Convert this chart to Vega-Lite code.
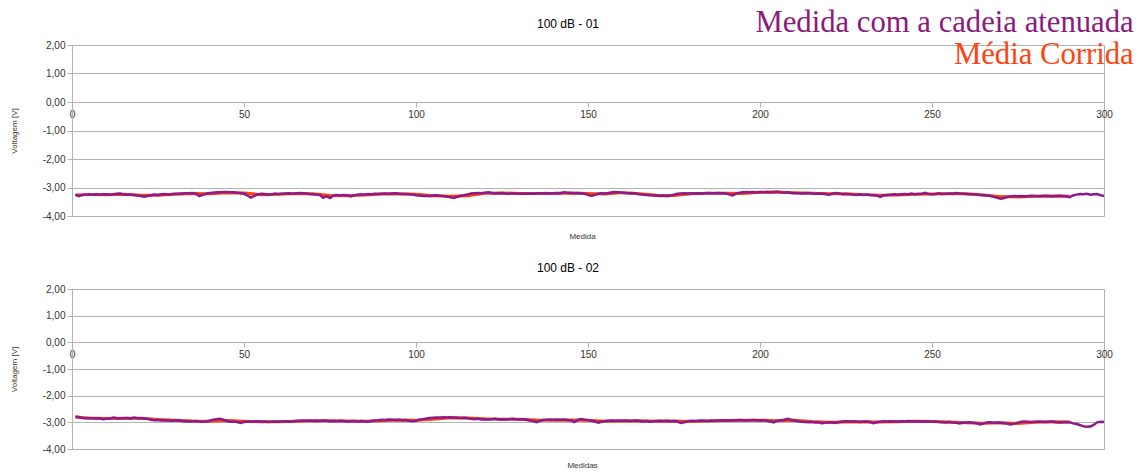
{
"$schema": "https://vega.github.io/schema/vega-lite/v6.json",
"background": "white",
"padding": {"left": 9, "top": 8, "right": 0, "bottom": 0},
"spacing": 20,
"datasets": {
"m1": [{"x":1,"v":-3.25},{"x":2,"v":-3.30},{"x":3,"v":-3.26},{"x":4,"v":-3.25},{"x":5,"v":-3.24},{"x":6,"v":-3.25},{"x":7,"v":-3.24},{"x":8,"v":-3.25},{"x":9,"v":-3.24},{"x":10,"v":-3.24},
{"x":11,"v":-3.25},{"x":12,"v":-3.24},{"x":13,"v":-3.22},{"x":14,"v":-3.21},{"x":15,"v":-3.24},{"x":16,"v":-3.25},{"x":17,"v":-3.25},{"x":18,"v":-3.26},{"x":19,"v":-3.28},{"x":20,"v":-3.30},
{"x":21,"v":-3.32},{"x":22,"v":-3.30},{"x":23,"v":-3.27},{"x":24,"v":-3.25},{"x":25,"v":-3.26},{"x":26,"v":-3.24},{"x":27,"v":-3.23},{"x":28,"v":-3.25},{"x":29,"v":-3.23},{"x":30,"v":-3.22},
{"x":31,"v":-3.22},{"x":32,"v":-3.21},{"x":33,"v":-3.20},{"x":34,"v":-3.20},{"x":35,"v":-3.19},{"x":36,"v":-3.22},{"x":37,"v":-3.30},{"x":38,"v":-3.26},{"x":39,"v":-3.22},{"x":40,"v":-3.19},
{"x":41,"v":-3.18},{"x":42,"v":-3.17},{"x":43,"v":-3.17},{"x":44,"v":-3.16},{"x":45,"v":-3.16},{"x":46,"v":-3.17},{"x":47,"v":-3.17},{"x":48,"v":-3.18},{"x":49,"v":-3.20},{"x":50,"v":-3.22},
{"x":51,"v":-3.28},{"x":52,"v":-3.35},{"x":53,"v":-3.29},{"x":54,"v":-3.24},{"x":55,"v":-3.22},{"x":56,"v":-3.23},{"x":57,"v":-3.26},{"x":58,"v":-3.24},{"x":59,"v":-3.21},{"x":60,"v":-3.23},
{"x":61,"v":-3.22},{"x":62,"v":-3.21},{"x":63,"v":-3.20},{"x":64,"v":-3.22},{"x":65,"v":-3.21},{"x":66,"v":-3.19},{"x":67,"v":-3.20},{"x":68,"v":-3.21},{"x":69,"v":-3.23},{"x":70,"v":-3.24},
{"x":71,"v":-3.25},{"x":72,"v":-3.26},{"x":73,"v":-3.36},{"x":74,"v":-3.30},{"x":75,"v":-3.37},{"x":76,"v":-3.29},{"x":77,"v":-3.26},{"x":78,"v":-3.28},{"x":79,"v":-3.26},{"x":80,"v":-3.27},
{"x":81,"v":-3.31},{"x":82,"v":-3.27},{"x":83,"v":-3.25},{"x":84,"v":-3.24},{"x":85,"v":-3.25},{"x":86,"v":-3.23},{"x":87,"v":-3.24},{"x":88,"v":-3.22},{"x":89,"v":-3.23},{"x":90,"v":-3.22},
{"x":91,"v":-3.21},{"x":92,"v":-3.22},{"x":93,"v":-3.21},{"x":94,"v":-3.20},{"x":95,"v":-3.22},{"x":96,"v":-3.23},{"x":97,"v":-3.23},{"x":98,"v":-3.24},{"x":99,"v":-3.25},{"x":100,"v":-3.27},
{"x":101,"v":-3.28},{"x":102,"v":-3.30},{"x":103,"v":-3.29},{"x":104,"v":-3.31},{"x":105,"v":-3.28},{"x":106,"v":-3.27},{"x":107,"v":-3.29},{"x":108,"v":-3.30},{"x":109,"v":-3.32},{"x":110,"v":-3.34},
{"x":111,"v":-3.37},{"x":112,"v":-3.33},{"x":113,"v":-3.29},{"x":114,"v":-3.27},{"x":115,"v":-3.24},{"x":116,"v":-3.21},{"x":117,"v":-3.20},{"x":118,"v":-3.19},{"x":119,"v":-3.20},{"x":120,"v":-3.18},
{"x":121,"v":-3.17},{"x":122,"v":-3.19},{"x":123,"v":-3.21},{"x":124,"v":-3.20},{"x":125,"v":-3.19},{"x":126,"v":-3.21},{"x":127,"v":-3.22},{"x":128,"v":-3.21},{"x":129,"v":-3.21},{"x":130,"v":-3.22},
{"x":131,"v":-3.21},{"x":132,"v":-3.22},{"x":133,"v":-3.21},{"x":134,"v":-3.22},{"x":135,"v":-3.21},{"x":136,"v":-3.20},{"x":137,"v":-3.20},{"x":138,"v":-3.19},{"x":139,"v":-3.21},{"x":140,"v":-3.20},
{"x":141,"v":-3.19},{"x":142,"v":-3.20},{"x":143,"v":-3.17},{"x":144,"v":-3.18},{"x":145,"v":-3.19},{"x":146,"v":-3.20},{"x":147,"v":-3.19},{"x":148,"v":-3.20},{"x":149,"v":-3.22},{"x":150,"v":-3.26},
{"x":151,"v":-3.30},{"x":152,"v":-3.26},{"x":153,"v":-3.22},{"x":154,"v":-3.20},{"x":155,"v":-3.21},{"x":156,"v":-3.19},{"x":157,"v":-3.17},{"x":158,"v":-3.16},{"x":159,"v":-3.17},{"x":160,"v":-3.18},
{"x":161,"v":-3.19},{"x":162,"v":-3.20},{"x":163,"v":-3.19},{"x":164,"v":-3.21},{"x":165,"v":-3.24},{"x":166,"v":-3.25},{"x":167,"v":-3.26},{"x":168,"v":-3.27},{"x":169,"v":-3.28},{"x":170,"v":-3.29},
{"x":171,"v":-3.30},{"x":172,"v":-3.29},{"x":173,"v":-3.31},{"x":174,"v":-3.28},{"x":175,"v":-3.25},{"x":176,"v":-3.22},{"x":177,"v":-3.21},{"x":178,"v":-3.20},{"x":179,"v":-3.21},{"x":180,"v":-3.20},
{"x":181,"v":-3.21},{"x":182,"v":-3.20},{"x":183,"v":-3.21},{"x":184,"v":-3.20},{"x":185,"v":-3.19},{"x":186,"v":-3.20},{"x":187,"v":-3.20},{"x":188,"v":-3.19},{"x":189,"v":-3.20},{"x":190,"v":-3.21},
{"x":191,"v":-3.24},{"x":192,"v":-3.28},{"x":193,"v":-3.22},{"x":194,"v":-3.18},{"x":195,"v":-3.17},{"x":196,"v":-3.16},{"x":197,"v":-3.17},{"x":198,"v":-3.16},{"x":199,"v":-3.17},{"x":200,"v":-3.16},
{"x":201,"v":-3.17},{"x":202,"v":-3.16},{"x":203,"v":-3.17},{"x":204,"v":-3.16},{"x":205,"v":-3.15},{"x":206,"v":-3.17},{"x":207,"v":-3.18},{"x":208,"v":-3.17},{"x":209,"v":-3.19},{"x":210,"v":-3.20},
{"x":211,"v":-3.20},{"x":212,"v":-3.21},{"x":213,"v":-3.20},{"x":214,"v":-3.19},{"x":215,"v":-3.21},{"x":216,"v":-3.22},{"x":217,"v":-3.21},{"x":218,"v":-3.22},{"x":219,"v":-3.23},{"x":220,"v":-3.25},
{"x":221,"v":-3.22},{"x":222,"v":-3.19},{"x":223,"v":-3.21},{"x":224,"v":-3.24},{"x":225,"v":-3.23},{"x":226,"v":-3.24},{"x":227,"v":-3.25},{"x":228,"v":-3.26},{"x":229,"v":-3.24},{"x":230,"v":-3.26},
{"x":231,"v":-3.25},{"x":232,"v":-3.26},{"x":233,"v":-3.27},{"x":234,"v":-3.28},{"x":235,"v":-3.33},{"x":236,"v":-3.27},{"x":237,"v":-3.26},{"x":238,"v":-3.25},{"x":239,"v":-3.24},{"x":240,"v":-3.25},
{"x":241,"v":-3.24},{"x":242,"v":-3.23},{"x":243,"v":-3.24},{"x":244,"v":-3.21},{"x":245,"v":-3.24},{"x":246,"v":-3.23},{"x":247,"v":-3.22},{"x":248,"v":-3.19},{"x":249,"v":-3.23},{"x":250,"v":-3.24},
{"x":251,"v":-3.23},{"x":252,"v":-3.20},{"x":253,"v":-3.23},{"x":254,"v":-3.22},{"x":255,"v":-3.21},{"x":256,"v":-3.22},{"x":257,"v":-3.19},{"x":258,"v":-3.21},{"x":259,"v":-3.22},{"x":260,"v":-3.23},
{"x":261,"v":-3.24},{"x":262,"v":-3.24},{"x":263,"v":-3.25},{"x":264,"v":-3.26},{"x":265,"v":-3.27},{"x":266,"v":-3.28},{"x":267,"v":-3.30},{"x":268,"v":-3.33},{"x":269,"v":-3.36},{"x":270,"v":-3.39},
{"x":271,"v":-3.37},{"x":272,"v":-3.33},{"x":273,"v":-3.31},{"x":274,"v":-3.30},{"x":275,"v":-3.31},{"x":276,"v":-3.30},{"x":277,"v":-3.31},{"x":278,"v":-3.30},{"x":279,"v":-3.29},{"x":280,"v":-3.30},
{"x":281,"v":-3.31},{"x":282,"v":-3.30},{"x":283,"v":-3.29},{"x":284,"v":-3.30},{"x":285,"v":-3.31},{"x":286,"v":-3.30},{"x":287,"v":-3.29},{"x":288,"v":-3.30},{"x":289,"v":-3.31},{"x":290,"v":-3.34},
{"x":291,"v":-3.28},{"x":292,"v":-3.25},{"x":293,"v":-3.23},{"x":294,"v":-3.24},{"x":295,"v":-3.22},{"x":296,"v":-3.25},{"x":297,"v":-3.24},{"x":298,"v":-3.23},{"x":299,"v":-3.27},{"x":300,"v":-3.30}],
"r1": [{"x":1,"v":-3.26},{"x":5,"v":-3.25},{"x":10,"v":-3.25},{"x":15,"v":-3.24},{"x":20,"v":-3.27},{"x":25,"v":-3.27},{"x":30,"v":-3.24},{"x":35,"v":-3.21},{"x":40,"v":-3.22},{"x":45,"v":-3.18},{"x":50,"v":-3.19},{"x":55,"v":-3.25},{"x":60,"v":-3.24},{"x":65,"v":-3.21},{"x":70,"v":-3.22},{"x":75,"v":-3.28},{"x":80,"v":-3.29},{"x":85,"v":-3.26},{"x":90,"v":-3.23},{"x":95,"v":-3.22},{"x":100,"v":-3.24},{"x":105,"v":-3.29},{"x":110,"v":-3.31},{"x":115,"v":-3.29},{"x":120,"v":-3.20},{"x":125,"v":-3.19},{"x":130,"v":-3.21},{"x":135,"v":-3.21},{"x":140,"v":-3.21},{"x":145,"v":-3.19},{"x":150,"v":-3.21},{"x":155,"v":-3.23},{"x":160,"v":-3.18},{"x":165,"v":-3.22},{"x":170,"v":-3.27},{"x":175,"v":-3.28},{"x":180,"v":-3.22},{"x":185,"v":-3.20},{"x":190,"v":-3.20},{"x":195,"v":-3.21},{"x":200,"v":-3.17},{"x":205,"v":-3.16},{"x":210,"v":-3.18},{"x":215,"v":-3.20},{"x":220,"v":-3.22},{"x":225,"v":-3.22},{"x":230,"v":-3.25},{"x":235,"v":-3.27},{"x":240,"v":-3.26},{"x":245,"v":-3.24},{"x":250,"v":-3.23},{"x":255,"v":-3.22},{"x":260,"v":-3.22},{"x":265,"v":-3.26},{"x":270,"v":-3.32},{"x":275,"v":-3.33},{"x":280,"v":-3.31},{"x":285,"v":-3.30},{"x":290,"v":-3.31}],
"m2": [{"x":1,"v":-2.78},{"x":2,"v":-2.80},{"x":3,"v":-2.84},{"x":4,"v":-2.85},{"x":5,"v":-2.85},{"x":6,"v":-2.85},{"x":7,"v":-2.86},{"x":8,"v":-2.85},{"x":9,"v":-2.88},{"x":10,"v":-2.87},
{"x":11,"v":-2.86},{"x":12,"v":-2.82},{"x":13,"v":-2.85},{"x":14,"v":-2.86},{"x":15,"v":-2.85},{"x":16,"v":-2.84},{"x":17,"v":-2.86},{"x":18,"v":-2.82},{"x":19,"v":-2.85},{"x":20,"v":-2.85},
{"x":21,"v":-2.86},{"x":22,"v":-2.87},{"x":23,"v":-2.90},{"x":24,"v":-2.92},{"x":25,"v":-2.91},{"x":26,"v":-2.93},{"x":27,"v":-2.92},{"x":28,"v":-2.93},{"x":29,"v":-2.94},{"x":30,"v":-2.93},
{"x":31,"v":-2.92},{"x":32,"v":-2.95},{"x":33,"v":-2.96},{"x":34,"v":-2.97},{"x":35,"v":-2.96},{"x":36,"v":-2.95},{"x":37,"v":-2.97},{"x":38,"v":-2.98},{"x":39,"v":-2.97},{"x":40,"v":-2.94},
{"x":41,"v":-2.90},{"x":42,"v":-2.88},{"x":43,"v":-2.87},{"x":44,"v":-2.90},{"x":45,"v":-2.95},{"x":46,"v":-2.98},{"x":47,"v":-2.97},{"x":48,"v":-2.99},{"x":49,"v":-3.02},{"x":50,"v":-2.99},
{"x":51,"v":-2.97},{"x":52,"v":-2.98},{"x":53,"v":-2.97},{"x":54,"v":-2.96},{"x":55,"v":-2.98},{"x":56,"v":-2.97},{"x":57,"v":-2.99},{"x":58,"v":-2.98},{"x":59,"v":-2.97},{"x":60,"v":-2.98},
{"x":61,"v":-2.97},{"x":62,"v":-2.96},{"x":63,"v":-2.98},{"x":64,"v":-2.97},{"x":65,"v":-2.95},{"x":66,"v":-2.94},{"x":67,"v":-2.93},{"x":68,"v":-2.94},{"x":69,"v":-2.93},{"x":70,"v":-2.95},
{"x":71,"v":-2.94},{"x":72,"v":-2.95},{"x":73,"v":-2.93},{"x":74,"v":-2.94},{"x":75,"v":-2.96},{"x":76,"v":-2.95},{"x":77,"v":-2.96},{"x":78,"v":-2.94},{"x":79,"v":-2.95},{"x":80,"v":-2.97},
{"x":81,"v":-2.96},{"x":82,"v":-2.95},{"x":83,"v":-2.97},{"x":84,"v":-2.95},{"x":85,"v":-2.96},{"x":86,"v":-2.98},{"x":87,"v":-2.95},{"x":88,"v":-2.93},{"x":89,"v":-2.92},{"x":90,"v":-2.90},
{"x":91,"v":-2.91},{"x":92,"v":-2.89},{"x":93,"v":-2.90},{"x":94,"v":-2.91},{"x":95,"v":-2.90},{"x":96,"v":-2.92},{"x":97,"v":-2.91},{"x":98,"v":-2.94},{"x":99,"v":-2.96},{"x":100,"v":-2.94},
{"x":101,"v":-2.90},{"x":102,"v":-2.88},{"x":103,"v":-2.86},{"x":104,"v":-2.84},{"x":105,"v":-2.83},{"x":106,"v":-2.82},{"x":107,"v":-2.82},{"x":108,"v":-2.81},{"x":109,"v":-2.82},{"x":110,"v":-2.81},
{"x":111,"v":-2.82},{"x":112,"v":-2.83},{"x":113,"v":-2.84},{"x":114,"v":-2.83},{"x":115,"v":-2.85},{"x":116,"v":-2.87},{"x":117,"v":-2.88},{"x":118,"v":-2.87},{"x":119,"v":-2.89},{"x":120,"v":-2.88},
{"x":121,"v":-2.89},{"x":122,"v":-2.88},{"x":123,"v":-2.87},{"x":124,"v":-2.89},{"x":125,"v":-2.88},{"x":126,"v":-2.89},{"x":127,"v":-2.88},{"x":128,"v":-2.87},{"x":129,"v":-2.88},{"x":130,"v":-2.89},
{"x":131,"v":-2.88},{"x":132,"v":-2.90},{"x":133,"v":-2.93},{"x":134,"v":-2.95},{"x":135,"v":-2.99},{"x":136,"v":-2.94},{"x":137,"v":-2.91},{"x":138,"v":-2.90},{"x":139,"v":-2.89},{"x":140,"v":-2.90},
{"x":141,"v":-2.89},{"x":142,"v":-2.90},{"x":143,"v":-2.89},{"x":144,"v":-2.91},{"x":145,"v":-2.92},{"x":146,"v":-2.99},{"x":147,"v":-2.91},{"x":148,"v":-2.88},{"x":149,"v":-2.90},{"x":150,"v":-2.92},
{"x":151,"v":-2.94},{"x":152,"v":-2.97},{"x":153,"v":-3.01},{"x":154,"v":-2.98},{"x":155,"v":-2.95},{"x":156,"v":-2.94},{"x":157,"v":-2.93},{"x":158,"v":-2.94},{"x":159,"v":-2.93},{"x":160,"v":-2.94},
{"x":161,"v":-2.93},{"x":162,"v":-2.95},{"x":163,"v":-2.94},{"x":164,"v":-2.93},{"x":165,"v":-2.95},{"x":166,"v":-2.97},{"x":167,"v":-2.95},{"x":168,"v":-2.98},{"x":169,"v":-2.96},{"x":170,"v":-2.95},
{"x":171,"v":-2.94},{"x":172,"v":-2.95},{"x":173,"v":-2.94},{"x":174,"v":-2.96},{"x":175,"v":-2.95},{"x":176,"v":-2.97},{"x":177,"v":-3.02},{"x":178,"v":-3.00},{"x":179,"v":-2.96},{"x":180,"v":-2.94},
{"x":181,"v":-2.95},{"x":182,"v":-2.94},{"x":183,"v":-2.93},{"x":184,"v":-2.94},{"x":185,"v":-2.95},{"x":186,"v":-2.93},{"x":187,"v":-2.94},{"x":188,"v":-2.93},{"x":189,"v":-2.92},{"x":190,"v":-2.93},
{"x":191,"v":-2.92},{"x":192,"v":-2.93},{"x":193,"v":-2.92},{"x":194,"v":-2.91},{"x":195,"v":-2.92},{"x":196,"v":-2.93},{"x":197,"v":-2.92},{"x":198,"v":-2.91},{"x":199,"v":-2.92},{"x":200,"v":-2.93},
{"x":201,"v":-2.92},{"x":202,"v":-2.94},{"x":203,"v":-2.97},{"x":204,"v":-3.00},{"x":205,"v":-2.94},{"x":206,"v":-2.92},{"x":207,"v":-2.90},{"x":208,"v":-2.87},{"x":209,"v":-2.90},{"x":210,"v":-2.93},
{"x":211,"v":-2.96},{"x":212,"v":-2.98},{"x":213,"v":-2.99},{"x":214,"v":-3.00},{"x":215,"v":-2.99},{"x":216,"v":-3.01},{"x":217,"v":-3.00},{"x":218,"v":-3.03},{"x":219,"v":-3.02},{"x":220,"v":-3.00},
{"x":221,"v":-3.01},{"x":222,"v":-3.02},{"x":223,"v":-2.99},{"x":224,"v":-2.97},{"x":225,"v":-2.96},{"x":226,"v":-2.97},{"x":227,"v":-2.96},{"x":228,"v":-2.97},{"x":229,"v":-2.99},{"x":230,"v":-2.98},
{"x":231,"v":-2.97},{"x":232,"v":-2.99},{"x":233,"v":-3.03},{"x":234,"v":-3.00},{"x":235,"v":-2.98},{"x":236,"v":-2.96},{"x":237,"v":-2.97},{"x":238,"v":-2.96},{"x":239,"v":-2.97},{"x":240,"v":-2.98},
{"x":241,"v":-2.96},{"x":242,"v":-2.97},{"x":243,"v":-2.95},{"x":244,"v":-2.96},{"x":245,"v":-2.97},{"x":246,"v":-2.96},{"x":247,"v":-2.98},{"x":248,"v":-2.97},{"x":249,"v":-2.96},{"x":250,"v":-2.98},
{"x":251,"v":-2.97},{"x":252,"v":-2.99},{"x":253,"v":-3.00},{"x":254,"v":-3.01},{"x":255,"v":-2.99},{"x":256,"v":-3.01},{"x":257,"v":-3.02},{"x":258,"v":-3.04},{"x":259,"v":-3.02},{"x":260,"v":-3.01},
{"x":261,"v":-3.00},{"x":262,"v":-3.02},{"x":263,"v":-3.03},{"x":264,"v":-3.08},{"x":265,"v":-3.04},{"x":266,"v":-3.01},{"x":267,"v":-3.00},{"x":268,"v":-3.02},{"x":269,"v":-3.01},{"x":270,"v":-3.02},
{"x":271,"v":-3.03},{"x":272,"v":-3.05},{"x":273,"v":-3.08},{"x":274,"v":-3.04},{"x":275,"v":-3.01},{"x":276,"v":-2.98},{"x":277,"v":-2.97},{"x":278,"v":-2.98},{"x":279,"v":-2.99},{"x":280,"v":-2.98},
{"x":281,"v":-2.97},{"x":282,"v":-2.98},{"x":283,"v":-2.99},{"x":284,"v":-2.98},{"x":285,"v":-2.97},{"x":286,"v":-3.00},{"x":287,"v":-3.01},{"x":288,"v":-3.00},{"x":289,"v":-2.99},{"x":290,"v":-3.00},
{"x":291,"v":-3.04},{"x":292,"v":-3.06},{"x":293,"v":-3.10},{"x":294,"v":-3.15},{"x":295,"v":-3.17},{"x":296,"v":-3.16},{"x":297,"v":-3.10},{"x":298,"v":-3.00},{"x":299,"v":-2.98},{"x":300,"v":-2.99}],
"r2": [{"x":1,"v":-2.81},{"x":5,"v":-2.84},{"x":10,"v":-2.86},{"x":15,"v":-2.85},{"x":20,"v":-2.85},{"x":25,"v":-2.89},{"x":30,"v":-2.92},{"x":35,"v":-2.95},{"x":40,"v":-2.96},{"x":45,"v":-2.93},{"x":50,"v":-2.96},{"x":55,"v":-2.98},{"x":60,"v":-2.98},{"x":65,"v":-2.96},{"x":70,"v":-2.94},{"x":75,"v":-2.94},{"x":80,"v":-2.95},{"x":85,"v":-2.96},{"x":90,"v":-2.94},{"x":95,"v":-2.91},{"x":100,"v":-2.92},{"x":105,"v":-2.88},{"x":110,"v":-2.83},{"x":115,"v":-2.84},{"x":120,"v":-2.87},{"x":125,"v":-2.88},{"x":130,"v":-2.88},{"x":135,"v":-2.91},{"x":140,"v":-2.92},{"x":145,"v":-2.91},{"x":150,"v":-2.92},{"x":155,"v":-2.96},{"x":160,"v":-2.95},{"x":165,"v":-2.94},{"x":170,"v":-2.96},{"x":175,"v":-2.95},{"x":180,"v":-2.97},{"x":185,"v":-2.95},{"x":190,"v":-2.93},{"x":195,"v":-2.92},{"x":200,"v":-2.92},{"x":205,"v":-2.94},{"x":210,"v":-2.92},{"x":215,"v":-2.97},{"x":220,"v":-3.00},{"x":225,"v":-2.99},{"x":230,"v":-2.98},{"x":235,"v":-2.99},{"x":240,"v":-2.98},{"x":245,"v":-2.96},{"x":250,"v":-2.97},{"x":255,"v":-2.99},{"x":260,"v":-3.02},{"x":265,"v":-3.03},{"x":270,"v":-3.02},{"x":275,"v":-3.04},{"x":280,"v":-3.00},{"x":285,"v":-2.98},{"x":290,"v":-2.99}]
},
"vconcat": [
{
 "width": 1032, "height": 171,
 "title": "100 dB - 01",
 "encoding": {
  "x": {"field": "x", "type": "quantitative", "scale": {"domain": [0, 300], "nice": false},
   "axis": {"values": [0, 50, 100, 150, 200, 250, 300], "grid": false, "domain": false, "offset": -114, "title": "Medida", "titleY": 130, "titleX": 510, "labelFlush": false}},
  "y": {"field": "v", "type": "quantitative", "scale": {"domain": [-4, 2], "nice": false, "zero": false},
   "axis": {"values": [-4, -3, -2, -1, 0, 1, 2], "title": "Voltagem [V]", "titlePadding": 24, "domain": true,
    "labelExpr": "replace(replace(format(datum.value, '.2f'), '.', ','), '\u2212', '-')"}}
 },
 "layer": [
  {"data": {"name": "r1"}, "mark": {"type": "line", "strokeWidth": 3},
   "encoding": {"color": {"datum": "Média Corrida",
    "scale": {"domain": ["Medida com a cadeia atenuada", "Média Corrida"], "range": ["#8b1a8b", "#ff420e"]},
    "legend": {"orient": "none", "legendX": 1031, "legendY": -37, "title": null, "labelFont": "Liberation Serif", "labelFontSize": 30.7, "labelAlign": "right", "labelLimit": 0, "labelOffset": 0, "symbolSize": 0, "symbolOpacity": 0, "symbolStrokeWidth": 0, "rowPadding": 0, "padding": 0,
     "encode": {"labels": {"update": {"fill": {"signal": "datum.label === 'Média Corrida' ? '#ff420e' : '#8b1a7e'"}}}}}}}},
  {"data": {"name": "m1"}, "mark": {"type": "line", "strokeWidth": 2.5},
   "encoding": {"color": {"datum": "Medida com a cadeia atenuada"}}}
 ]
},
{
 "width": 1032, "height": 160,
 "title": "100 dB - 02",
 "encoding": {
  "x": {"field": "x", "type": "quantitative", "scale": {"domain": [0, 300], "nice": false},
   "axis": {"values": [0, 50, 100, 150, 200, 250, 300], "grid": false, "domain": false, "offset": -106.667, "title": "Medidas", "titleY": 119, "titleX": 510, "labelFlush": false}},
  "y": {"field": "v", "type": "quantitative", "scale": {"domain": [-4, 2], "nice": false, "zero": false},
   "axis": {"values": [-4, -3, -2, -1, 0, 1, 2], "title": "Voltagem [V]", "titlePadding": 24, "domain": true,
    "labelExpr": "replace(replace(format(datum.value, '.2f'), '.', ','), '\u2212', '-')"}}
 },
 "layer": [
  {"data": {"name": "r2"}, "mark": {"type": "line", "strokeWidth": 3},
   "encoding": {"color": {"datum": "Média Corrida"}}},
  {"data": {"name": "m2"}, "mark": {"type": "line", "strokeWidth": 2.5},
   "encoding": {"color": {"datum": "Medida com a cadeia atenuada"}}}
 ]
}
],
"config": {
 "view": {"stroke": "#b3b3b3"},
 "font": "Liberation Sans",
 "axis": {"labelFont": "Liberation Sans", "labelFontSize": 10, "labelColor": "#333333", "titleFont": "Liberation Sans", "titleFontSize": 8, "titleFontWeight": "normal", "titleColor": "#333333", "gridColor": "#b3b3b3", "domainColor": "#b3b3b3", "tickColor": "#b3b3b3", "tickSize": 5, "labelPadding": 2},
 "title": {"font": "Liberation Sans", "fontSize": 12, "fontWeight": "normal", "color": "#000000", "offset": 9, "dx": -20}
}
}
